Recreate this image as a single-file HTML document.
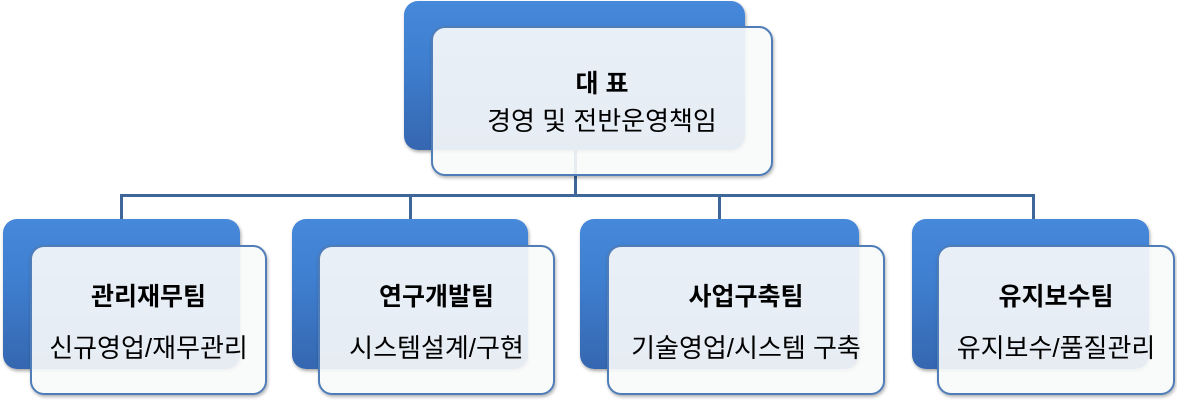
<!DOCTYPE html>
<html><head><meta charset="utf-8"><style>
body{margin:0;width:1177px;height:402px;background:#fff;position:relative;overflow:hidden;font-family:"Liberation Sans","Noto Sans CJK KR",sans-serif;}
.b{position:absolute;border-radius:14px;background:linear-gradient(180deg,#4688da 0%,#3f7fd0 40%,#3567b0 100%);box-shadow:1px 2px 3px rgba(0,0,0,.35);}
.w{position:absolute;border-radius:14px;background:rgba(248,249,250,0.91);border:2px solid #4f7db8;box-sizing:border-box;box-shadow:1px 2px 3px rgba(0,0,0,.3);text-align:center;color:#000;}
.t{position:absolute;left:0;right:0;font-weight:bold;font-size:25px;line-height:30px;}
.s{position:absolute;left:0;right:0;font-size:26px;line-height:30px;}
.l{position:absolute;background:#3e6698;}
</style></head><body>
<div class="l" style="left:574px;top:150px;width:3px;height:47px"></div>
<div class="l" style="left:120px;top:194px;width:915px;height:3px"></div>
<div class="l" style="left:120px;top:194px;width:3px;height:26px"></div>
<div class="l" style="left:409px;top:194px;width:3px;height:26px"></div>
<div class="l" style="left:718px;top:194px;width:3px;height:26px"></div>
<div class="l" style="left:1032px;top:194px;width:3px;height:26px"></div>

<div class="b" style="left:404px;top:1px;width:341px;height:149px"></div>
<div class="w" style="left:431px;top:26px;width:342px;height:150px"><div class="t" style="top:41px">대 표</div><div class="s" style="top:78px">경영 및 전반운영책임</div></div>

<div class="b" style="left:3px;top:219px;width:237px;height:150px"></div>
<div class="w" style="left:30px;top:245px;width:237px;height:150px"><div class="t" style="top:35px">관리재무팀</div><div class="s" style="top:86px">신규영업/재무관리</div></div>

<div class="b" style="left:292px;top:219px;width:236px;height:150px"></div>
<div class="w" style="left:318px;top:245px;width:237px;height:150px"><div class="t" style="top:35px">연구개발팀</div><div class="s" style="top:86px">시스템설계/구현</div></div>

<div class="b" style="left:580px;top:219px;width:279px;height:150px"></div>
<div class="w" style="left:607px;top:245px;width:278px;height:150px"><div class="t" style="top:35px">사업구축팀</div><div class="s" style="top:86px">기술영업/시스템 구축</div></div>

<div class="b" style="left:912px;top:219px;width:237px;height:150px"></div>
<div class="w" style="left:937px;top:245px;width:238px;height:150px"><div class="t" style="top:35px">유지보수팀</div><div class="s" style="top:86px">유지보수/품질관리</div></div>
</body></html>
